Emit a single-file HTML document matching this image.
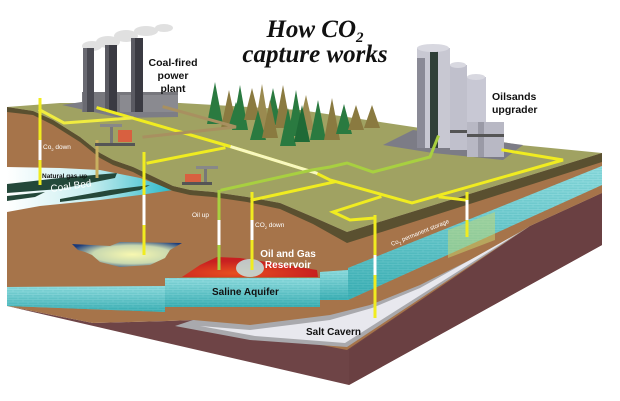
<!DOCTYPE html>
<html><head><meta charset="utf-8"><style>
html,body{margin:0;padding:0;background:#fff;width:620px;height:401px;overflow:hidden}
svg{display:block}
.t{font-family:"Liberation Sans",sans-serif;font-weight:bold}
</style></head><body>
<svg width="620" height="401" viewBox="0 0 620 401" xmlns="http://www.w3.org/2000/svg">
<defs>
<pattern id="brick" width="10" height="5" patternUnits="userSpaceOnUse">
<rect width="10" height="5" fill="#5cc4c8"/>
<path d="M0 4.5H10M0 2H10M3 0V2M8 2V4.5" stroke="#8fdde0" stroke-width="0.7" fill="none"/>
</pattern>
<linearGradient id="tealg" x1="0" y1="0" x2="0" y2="1">
<stop offset="0" stop-color="#a8e4e6" stop-opacity=".5"/><stop offset="1" stop-color="#1a9aa0" stop-opacity=".6"/>
</linearGradient>
<linearGradient id="coal" x1="0" y1="0" x2="1" y2="0">
<stop offset="0" stop-color="#ffffff"/><stop offset="0.5" stop-color="#c8eef0"/><stop offset="1" stop-color="#2ab8c8"/>
</linearGradient>
<radialGradient id="blob" cx=".55" cy=".5" r=".6">
<stop offset="0" stop-color="#f8f8b0"/><stop offset=".6" stop-color="#c8d8b0"/><stop offset="1" stop-color="#1a3a7a"/>
</radialGradient>
<radialGradient id="res" cx=".4" cy=".8" r=".6">
<stop offset="0" stop-color="#e85020"/><stop offset="1" stop-color="#c82020"/>
</radialGradient>
</defs>

<polygon points="7,306 93,323 167,321 193,320 347,347 530,226 602,193 602,245 349,385" fill="#6e4446"/>
<polygon points="349,385 349,350 530,226 602,193 602,245" fill="#6a4042"/>
<polygon points="7,107 33,111 53,120 80,137 100,153 113,160 133,167 150,175 173,186 190,190 213,192 247,197 280,203 313,217 347,232 347,350 193,320 167,321 93,323 7,306" fill="#a6744a"/>
<polygon points="347,232 602,153 602,193 530,226 347,350" fill="#a6744a"/>
<polygon points="530,226 347,347 250,340 175,326 193,320 250,325 330,315 370,305 420,285 490,250" fill="#a9a9ad"/>
<polygon points="520,232 470,260 420,288 372,308 330,320 250,330 200,326 255,336 345,343" fill="#e8e8ee"/>
<polygon points="7,167 60,168 100,170 140,178 173,190 140,195 100,200 40,206 7,212" fill="url(#coal)"/>
<polygon points="7,184 60,178 117,173 115,178 60,189 7,193" fill="#24483a"/>
<polygon points="7,196 45,192 35,197 7,201" fill="#24483a"/>
<polygon points="60,199 110,190 150,185 140,190 100,197 60,202" fill="#24483a"/>
<polygon points="72,244 110,246 120,242 182,243 170,250 165,258 150,265 120,267 100,262 92,255 85,252 78,250" fill="url(#blob)"/>
<polygon points="182,277 200,265 217,257 240,258 280,264 317,270 318,277" fill="url(#res)"/>
<ellipse cx="250" cy="268" rx="14" ry="9" fill="#bff0f0" opacity=".8"/>
<polygon points="7,287 165,286 165,312 7,306" fill="url(#brick)"/>
<polygon points="7,287 165,286 165,312 7,306" fill="url(#tealg)"/>
<polygon points="165,278 320,278 320,307 165,307" fill="url(#brick)"/>
<polygon points="165,278 320,278 320,307 165,307" fill="url(#tealg)"/>
<polygon points="320,272 348,270 348,300 320,300" fill="url(#brick)"/>
<polygon points="320,272 348,270 348,300 320,300" fill="url(#tealg)"/>
<polygon points="348,268 602,166 602,185 348,300" fill="url(#brick)"/>
<polygon points="348,268 602,166 602,185 348,300" fill="url(#tealg)"/>
<polygon points="448,230 495,212 495,240 448,258" fill="#c8d870" opacity=".5"/>

<polygon points="7,107 60,103 180,103 300,110 420,128 520,145 602,153 347,232 313,217 280,203 247,197 213,192 190,190 173,186 150,175 133,167 113,160 100,153 80,137 53,120 33,111" fill="#a0a262"/>
<polygon points="7,107 33,111 53,120 80,137 100,153 113,160 133,167 150,175 173,186 190,190 213,192 247,197 280,203 313,217 347,232 602,153 602,162 347,243 313,224 280,209 247,202 213,197 190,195 173,191 150,181 133,172 113,165 100,158 80,142 53,125 33,115 7,112" fill="#5a5030"/>

<polygon points="62,105 120,96 178,104 178,117 120,118" fill="#7d7d85"/>
<rect x="82" y="92" width="96" height="20" fill="#77777d"/>
<rect x="120" y="95" width="58" height="17" fill="#8a8a90"/>
<g fill="#d4d4d4" opacity=".7">
<ellipse cx="92" cy="46" rx="10" ry="5"/><ellipse cx="108" cy="42" rx="12" ry="6"/><ellipse cx="126" cy="36" rx="12" ry="6"/><ellipse cx="146" cy="31" rx="12" ry="5"/><ellipse cx="164" cy="28" rx="9" ry="4"/>
</g>
<rect x="83" y="48" width="11" height="64" fill="#4a4a52"/><rect x="83" y="48" width="4" height="64" fill="#6a6a72"/>
<rect x="105" y="45" width="12" height="67" fill="#3a3a42"/><rect x="105" y="45" width="4" height="67" fill="#5a5a62"/>
<rect x="131" y="38" width="12" height="74" fill="#3a3a42"/><rect x="131" y="38" width="4" height="74" fill="#5a5a62"/>

<polygon points="413,130 523,145 503,160 433,153 383,145" fill="#7c7c86"/>
<rect x="417" y="48" width="33" height="100" fill="#c8c8d2"/><rect x="430" y="48" width="8" height="100" fill="#304038"/><rect x="417" y="58" width="8" height="90" fill="#8a8a96"/>
<ellipse cx="433" cy="48" rx="16" ry="4" fill="#d8d8e0"/>
<rect x="450" y="65" width="17" height="85" fill="#c0c0cc"/><ellipse cx="458" cy="65" rx="8" ry="3" fill="#d8d8e0"/>
<rect x="467" y="77" width="19" height="60" fill="#c8c8d4"/><ellipse cx="476" cy="77" rx="9" ry="3" fill="#d8d8e0"/>
<rect x="467" y="122" width="37" height="35" fill="#b8b8c4"/><rect x="478" y="122" width="6" height="35" fill="#9a9aa6"/><rect x="467" y="134" width="37" height="3" fill="#555"/>
<rect x="450" y="130" width="17" height="3" fill="#555"/>

<g>
<polygon points="215,82 207,124 223,124" fill="#2a7a40"/><polygon points="229,90 221,128 237,128" fill="#8a7a40"/>
<polygon points="240,85 232,130 248,130" fill="#2a7a40"/><polygon points="252,88 244,120 260,120" fill="#8a7a40"/>
<polygon points="262,84 254,132 270,132" fill="#9a8a50"/><polygon points="273,88 265,125 281,125" fill="#2a7a40"/>
<polygon points="283,85 275,128 291,128" fill="#8a7a40"/><polygon points="296,90 288,136 304,136" fill="#2a7a40"/>
<polygon points="306,95 298,130 314,130" fill="#9a8a50"/><polygon points="318,100 310,140 326,140" fill="#2a7a40"/>
<polygon points="332,98 324,140 340,140" fill="#8a7a40"/><polygon points="344,104 336,134 352,134" fill="#2a7a40"/>
<polygon points="356,105 348,130 364,130" fill="#8a7a40"/><polygon points="372,105 364,128 380,128" fill="#8a7a40"/>
<polygon points="258,110 250,140 266,140" fill="#2a7a40"/><polygon points="288,108 280,146 296,146" fill="#2a7a40"/>
<polygon points="236,102 228,128 244,128" fill="#2a7a40"/>
<polygon points="302,105 294,142 310,142" fill="#1f6a36"/><polygon points="270,100 262,138 278,138" fill="#8a7a40"/>
</g>

<g fill="none" stroke-linecap="square" stroke-width="3">
<polyline points="98,108 232,147 316,173 330,180 412,203 563,160 503,150" stroke="#f0ec20"/>
<polyline points="232,147 316,173" stroke="#f8f8c0"/>
<polyline points="40,110 64,123 132,118" stroke="#f0ec40"/>
<polyline points="164,107 236,127 144,137" stroke="#a89060"/>
<polyline points="148,163 224,148" stroke="#f0ec20"/>
<polyline points="222,190 312,170 330,167 347,163 373,172 430,157 438,137" stroke="#a8d040"/>
<polyline points="252,200 334,182" stroke="#f0ec20"/>
<polyline points="380,197 333,212 350,220 375,218" stroke="#f0ec20"/>
<polyline points="440,197 465,200" stroke="#f0ec20"/>
</g>
<g stroke-width="3">
<line x1="40" y1="98" x2="40" y2="185" stroke="#f0ec20"/><line x1="40" y1="140" x2="40" y2="160" stroke="#fff"/>
<line x1="97" y1="140" x2="97" y2="178" stroke="#c8b060"/>
<line x1="144" y1="152" x2="144" y2="255" stroke="#f0ec20"/><line x1="144" y1="195" x2="144" y2="225" stroke="#fff"/>
<line x1="219" y1="190" x2="219" y2="270" stroke="#a8d040"/><line x1="219" y1="220" x2="219" y2="245" stroke="#fff"/>
<line x1="252" y1="192" x2="252" y2="270" stroke="#f0ec20"/><line x1="252" y1="220" x2="252" y2="240" stroke="#fff"/>
<line x1="375" y1="215" x2="375" y2="318" stroke="#f0ec20"/><line x1="375" y1="255" x2="375" y2="275" stroke="#fff"/>
<line x1="467" y1="192" x2="467" y2="237" stroke="#f0ec20"/><line x1="467" y1="200" x2="467" y2="220" stroke="#fff"/>
</g>
<g>
<rect x="95" y="143" width="40" height="3" fill="#555"/><rect x="110" y="127" width="3" height="16" fill="#777"/><rect x="100" y="124" width="22" height="3" fill="#888"/>
<rect x="118" y="130" width="14" height="12" fill="#d86040"/>
<rect x="182" y="182" width="30" height="3" fill="#555"/><rect x="204" y="168" width="3" height="14" fill="#777"/><rect x="196" y="166" width="22" height="3" fill="#888"/>
<rect x="185" y="174" width="16" height="8" fill="#d86040"/>
</g>

<text x="315" y="37" text-anchor="middle" font-family="Liberation Serif,serif" font-style="italic" font-weight="bold" font-size="25" fill="#111">How CO<tspan font-size="15" dy="5">2</tspan></text>
<text x="315" y="62" text-anchor="middle" font-family="Liberation Serif,serif" font-style="italic" font-weight="bold" font-size="25" fill="#111">capture works</text>
<text class="t" font-size="10.5" fill="#111" text-anchor="middle"><tspan x="173" y="66">Coal-fired</tspan><tspan x="173" y="79">power</tspan><tspan x="173" y="92">plant</tspan></text>
<text class="t" font-size="10.5" fill="#111"><tspan x="492" y="100">Oilsands</tspan><tspan x="492" y="113">upgrader</tspan></text>
<text class="t" x="42" y="178" font-size="6.5" fill="#111">Natural gas up</text>
<text x="43" y="149" font-family="Liberation Sans,sans-serif" font-size="6.5" fill="#fff">Co<tspan font-size="4" dy="2">2</tspan><tspan dy="-2"> down</tspan></text>
<text x="51" y="192" font-family="Liberation Sans,sans-serif" font-size="10" fill="#fff" transform="rotate(-8 51 192)">Coal Bed</text>
<text x="192" y="217" font-family="Liberation Sans,sans-serif" font-size="6.5" fill="#fff">Oil up</text>
<text x="255" y="227" font-family="Liberation Sans,sans-serif" font-size="6.5" fill="#fff">CO<tspan font-size="4" dy="2">2</tspan><tspan dy="-2"> down</tspan></text>
<text class="t" font-size="10" fill="#fff" text-anchor="middle" font-weight="normal"><tspan x="288" y="257">Oil and Gas</tspan><tspan x="288" y="268">Reservoir</tspan></text>
<text class="t" x="212" y="295" font-size="10" fill="#111">Saline Aquifer</text>
<text class="t" x="306" y="335" font-size="10" fill="#111">Salt Cavern</text>
<text x="392" y="246" font-family="Liberation Sans,sans-serif" font-size="6" fill="#fff" transform="rotate(-22 392 246)">Co<tspan font-size="4" dy="2">2</tspan><tspan dy="-2"> permanent storage</tspan></text>
</svg>
</body></html>
